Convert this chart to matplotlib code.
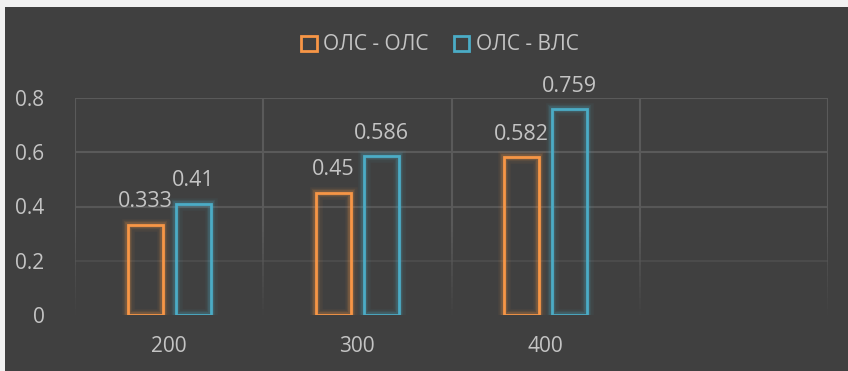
import numpy as np
import matplotlib.pyplot as plt
from matplotlib.patches import Patch, Rectangle

categories = ['200', '300', '400', '']
ols_ols = [0.333, 0.45, 0.582]
ols_vls = [0.41, 0.586, 0.759]
series_names = ['ОЛС - ОЛС', 'ОЛС - ВЛС']
colors = ['#F79646', '#4BACC6']

plt.rcParams['font.family'] = ['Open Sans', 'DejaVu Sans']
bg = '#404040'
txt = '#c4c4c4'

fig = plt.figure(figsize=(8.48, 3.71), dpi=100, facecolor=bg)
# light border at top/left like the screenshot
fig.patches.append(Rectangle((0, 1 - 7 / 371), 1, 7 / 371, transform=fig.transFigure,
                             facecolor='#f2f2f2', edgecolor='none', zorder=-1))
fig.patches.append(Rectangle((0, 0), 5 / 848, 1, transform=fig.transFigure,
                             facecolor='#f2f2f2', edgecolor='none', zorder=-1))

ax = fig.add_axes([75 / 848, 56 / 371, 753 / 848, 217 / 371])
ax.set_facecolor(bg)
for s in ax.spines.values():
    s.set_visible(False)

ax.set_xlim(-0.5, len(categories) - 0.5)
ax.set_ylim(0, 0.8)

# grid lines, fading out toward the bottom
grid_col = '#5a5a5a'
for y, a in [(0.8, 1.0), (0.6, 1.0), (0.4, 0.9), (0.2, 0.45)]:
    ax.axhline(y, color=grid_col, lw=1.5, alpha=a, zorder=0)
ys = np.linspace(0, 0.8, 40)
for xb in np.arange(-0.5, len(categories), 1.0):
    for i in range(len(ys) - 1):
        a = min(1.0, (ys[i] + 0.02) / 0.35)
        ax.plot([xb, xb], [ys[i], ys[i + 1]], color=grid_col, lw=1.5, alpha=a,
                zorder=0, solid_capstyle='butt')

x = np.arange(len(ols_ols))
w = 0.186
off = 0.128
for vals, dx, c, name in [(ols_ols, -off, colors[0], series_names[0]),
                          (ols_vls, off, colors[1], series_names[1])]:
    # glow
    for lw, a in [(9, 0.06), (6, 0.1), (4, 0.18)]:
        ax.bar(x + dx, vals, w, facecolor='none', edgecolor=c, lw=lw, alpha=a, zorder=2)
    ax.bar(x + dx, vals, w, facecolor='none', edgecolor=c, lw=2, zorder=3)
    for xi, v in zip(x, vals):
        ax.annotate(f'{v:g}', (xi + dx, v), xytext=(0, 9), textcoords='offset points',
                    ha='center', va='bottom', color=txt, fontsize=15.5, zorder=4)

ax.set_xticks(range(len(categories)))
ax.set_xticklabels(categories)
ax.set_yticks([0, 0.2, 0.4, 0.6, 0.8])
ax.set_yticklabels(['0', '0.2', '0.4', '0.6', '0.8'])
ax.tick_params(colors=txt, labelsize=15, length=0)
ax.tick_params(axis='x', pad=15)
ax.tick_params(axis='y', pad=22)

handles = [Patch(facecolor='none', edgecolor=c, lw=2, label=n)
           for c, n in zip(colors, series_names)]
leg = fig.legend(handles=handles, loc='center', bbox_to_anchor=(440 / 848, 1 - 45 / 371),
                 ncol=2, frameon=False, fontsize=15, handlelength=0.75, handleheight=0.75,
                 handletextpad=0.3, columnspacing=1.2)
for t in leg.get_texts():
    t.set_color(txt)

fig.savefig('out.png', dpi=100, facecolor=bg)
